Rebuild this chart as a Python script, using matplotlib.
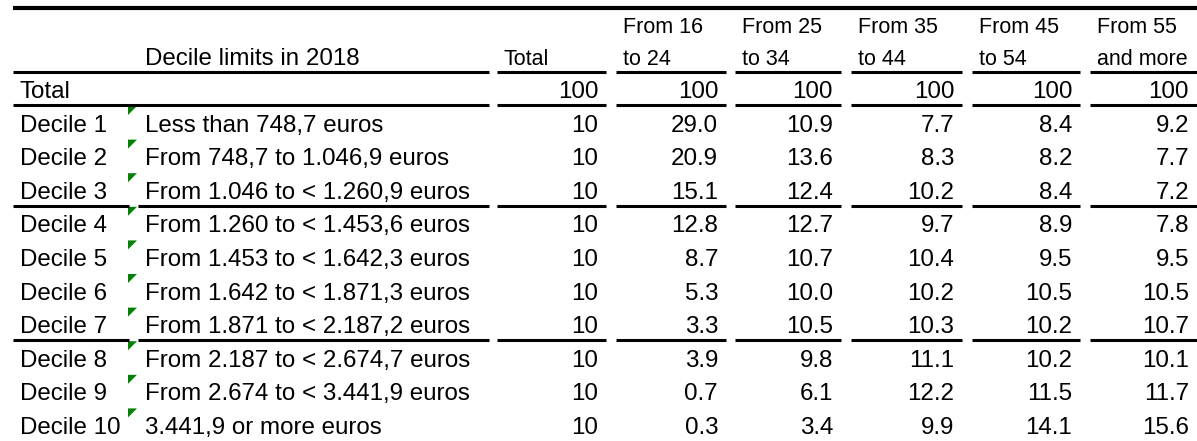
# Decile table: distribution of income deciles by age group (2018)

import matplotlib.pyplot as plt
from matplotlib.patches import Polygon

plt.rcParams['font.family'] = ['Liberation Sans', 'DejaVu Sans']

# Data
decile_labels = ["Decile 1", "Decile 2", "Decile 3", "Decile 4", "Decile 5",
                 "Decile 6", "Decile 7", "Decile 8", "Decile 9", "Decile 10"]
decile_limits = [
    "Less than 748,7 euros",
    "From 748,7 to 1.046,9 euros",
    "From 1.046 to < 1.260,9 euros",
    "From 1.260 to < 1.453,6 euros",
    "From 1.453 to < 1.642,3 euros",
    "From 1.642 to < 1.871,3 euros",
    "From 1.871 to < 2.187,2 euros",
    "From 2.187 to < 2.674,7 euros",
    "From 2.674 to < 3.441,9 euros",
    "3.441,9 or more euros",
]
header_top = ["", "From 16", "From 25", "From 35", "From 45", "From 55"]
header_bottom = ["Total", "to 24", "to 34", "to 44", "to 54", "and more"]
total_row = ["100", "100", "100", "100", "100", "100"]

col_total = [10, 10, 10, 10, 10, 10, 10, 10, 10, 10]
col_16_24 = [29.0, 20.9, 15.1, 12.8, 8.7, 5.3, 3.3, 3.9, 0.7, 0.3]
col_25_34 = [10.9, 13.6, 12.4, 12.7, 10.7, 10.0, 10.5, 9.8, 6.1, 3.4]
col_35_44 = [7.7, 8.3, 10.2, 9.7, 10.4, 10.2, 10.3, 11.1, 12.2, 9.9]
col_45_54 = [8.4, 8.2, 8.4, 8.9, 9.5, 10.5, 10.2, 10.2, 11.5, 14.1]
col_55_up = [9.2, 7.7, 7.2, 7.8, 9.5, 10.5, 10.7, 10.1, 11.7, 15.6]

# Layout (pixel coordinates of the 1197x441 canvas)
W, H = 1197, 441
fs = 17.4
seg_x = [(13, 489), (497, 606), (616, 726), (735, 841), (851, 962), (972, 1080), (1090, 1197)]
row_h = 33.6
body_top = 105

fig = plt.figure(figsize=(W / 100, H / 100), dpi=100)
ax = fig.add_axes([0, 0, 1, 1])
ax.set_xlim(0, W)
ax.set_ylim(H, 0)
ax.axis('off')


def hline(y, lw=2.2, gap=None):
    for i, (x0, x1) in enumerate(seg_x):
        if i == 0 and gap is not None:
            ax.plot([x0, gap[0]], [y, y], color='black', lw=lw, solid_capstyle='butt')
            ax.plot([gap[1], x1], [y, y], color='black', lw=lw, solid_capstyle='butt')
        else:
            ax.plot([x0, x1], [y, y], color='black', lw=lw, solid_capstyle='butt')


# top rule
ax.plot([13, W], [8, 8], color='black', lw=3.0, solid_capstyle='butt')

# header
ax.text(145, 65, "Decile limits in 2018", fontsize=fs, va='baseline', ha='left')
for j in range(6):
    x = seg_x[j + 1][0] + 7
    ax.text(x, 33, header_top[j], fontsize=15.5, va='baseline', ha='left')
    ax.text(x, 65, header_bottom[j], fontsize=15.5, va='baseline', ha='left')
hline(72)

# total row
ax.text(20, 98, "Total", fontsize=fs, va='baseline')
for j in range(6):
    ax.text(seg_x[j + 1][1] - 8, 98, total_row[j], fontsize=fs, va='baseline', ha='right')
hline(body_top)

# decile rows
columns = [col_total, col_16_24, col_25_34, col_35_44, col_45_54, col_55_up]
for i in range(len(decile_labels)):
    top = body_top + i * row_h
    base = top + row_h - 7
    ax.text(20, base, decile_labels[i], fontsize=fs, va='baseline')
    ax.text(145, base, decile_limits[i], fontsize=fs, va='baseline')
    # green comment marker
    ax.add_patch(Polygon([(128, top + 1), (137, top + 1), (128, top + 10)],
                         closed=True, color='#0a7d0a', lw=0))
    for j, col in enumerate(columns):
        txt = str(col[i]) if j == 0 else f"{col[i]:.1f}"
        ax.text(seg_x[j + 1][1] - 8, base, txt, fontsize=fs, va='baseline', ha='right')
    if i in (2, 6):
        hline(top + row_h, gap=(129, 138))

fig.savefig('out.png', dpi=100, facecolor='white')
